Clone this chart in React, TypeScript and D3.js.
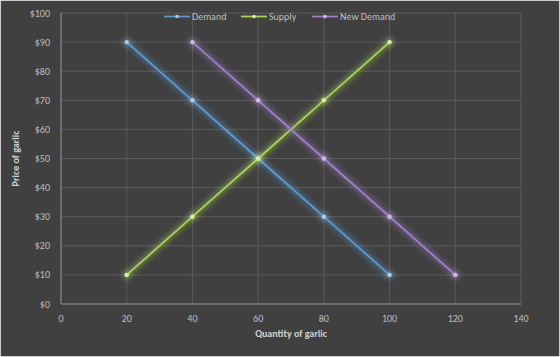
import React from "react";
import * as d3 from "d3";

const quantities = [0, 20, 40, 60, 80, 100, 120, 140];
const priceTicks = [0, 10, 20, 30, 40, 50, 60, 70, 80, 90, 100];
const demandQ = [20, 40, 60, 80, 100];
const demandP = [90, 70, 50, 30, 10];
const supplyQ = [20, 40, 60, 80, 100];
const supplyP = [10, 30, 50, 70, 90];
const newDemandQ = [40, 60, 80, 100, 120];
const newDemandP = [90, 70, 50, 30, 10];
const seriesNames = ["Demand", "Supply", "New Demand"];
const seriesColors = ["#5b9bd5", "#a9d452", "#a07fcc"];
const markerColors = ["#a8cdf2", "#d8f29a", "#d2b8ee"];

const W = 560, H = 357;
const left = 61, right = 521, top = 13, bottom = 304;

export default function App() {
  const x = d3.scaleLinear().domain([0, 140]).range([left, right]);
  const y = d3.scaleLinear().domain([0, 100]).range([bottom, top]);
  const line = d3.line<[number, number]>().x(d => x(d[0])).y(d => y(d[1]));
  const series = [
    { q: demandQ, p: demandP },
    { q: supplyQ, p: supplyP },
    { q: newDemandQ, p: newDemandP },
  ];
  const font = "Carlito, 'Liberation Sans', 'DejaVu Sans', sans-serif";
  const legendX = [164, 241, 312];
  return (
    <div style={{ position: "absolute", left: 0, top: 0 }}>
      <svg width={W} height={H} style={{ display: "block" }}>
        <defs>
          <filter id="glow" x="-20%" y="-20%" width="140%" height="140%">
            <feGaussianBlur stdDeviation="3" result="b" />
            <feComponentTransfer in="b" result="b2">
              <feFuncA type="linear" slope="1.4" />
            </feComponentTransfer>
            <feMerge>
              <feMergeNode in="b2" />
              <feMergeNode in="SourceGraphic" />
            </feMerge>
          </filter>
        </defs>
        <rect x={0.5} y={0.5} width={W - 1} height={H - 1} fill="#404040" stroke="#d0d0d0" />
        {priceTicks.map(t => (
          <line key={"gy" + t} x1={left} x2={right} y1={y(t)} y2={y(t)} stroke="#5a5a5a" strokeWidth={1} />
        ))}
        {quantities.map(t => (
          <line key={"gx" + t} x1={x(t)} x2={x(t)} y1={top} y2={bottom} stroke="#5a5a5a" strokeWidth={1} />
        ))}
        <line x1={left} x2={left} y1={top} y2={bottom} stroke="#8a8a8a" />
        <line x1={left} x2={right} y1={bottom} y2={bottom} stroke="#8a8a8a" />
        {priceTicks.map(t => (
          <text key={"ty" + t} x={50} y={y(t) + 3.5} textAnchor="end" fontSize={10} fill="#bfbfbf" fontFamily={font}>
            {"$" + t}
          </text>
        ))}
        {quantities.map(t => (
          <text key={"tx" + t} x={x(t)} y={322} textAnchor="middle" fontSize={10} fill="#bfbfbf" fontFamily={font}>
            {t}
          </text>
        ))}
        <text x={291} y={337} textAnchor="middle" fontSize={10} fontWeight="bold" fill="#d0d0d0" fontFamily={font}>
          Quantity of garlic
        </text>
        <text transform={`translate(19,${(top + bottom) / 2}) rotate(-90)`} textAnchor="middle" fontSize={10} fontWeight="bold" fill="#d0d0d0" fontFamily={font}>
          Price of garlic
        </text>
        {series.map((s, i) => {
          const pts: [number, number][] = s.q.map((q, j) => [q, s.p[j]]);
          return (
            <g key={"s" + i} filter="url(#glow)">
              <path d={line(pts) || ""} fill="none" stroke={seriesColors[i]} strokeWidth={1.8} />
              {pts.map((p, j) => (
                <circle key={j} cx={x(p[0])} cy={y(p[1])} r={2.2} fill={markerColors[i]} />
              ))}
            </g>
          );
        })}
        {seriesNames.map((n, i) => (
          <g key={"l" + i}>
            <line x1={legendX[i]} x2={legendX[i] + 26} y1={16.5} y2={16.5} stroke={seriesColors[i]} strokeWidth={1.8} />
            <circle cx={legendX[i] + 13} cy={16.5} r={1.8} fill={markerColors[i]} />
            <text x={legendX[i] + 28} y={20} fontSize={10} fill="#bfbfbf" fontFamily={font}>
              {n}
            </text>
          </g>
        ))}
      </svg>
    </div>
  );
}
